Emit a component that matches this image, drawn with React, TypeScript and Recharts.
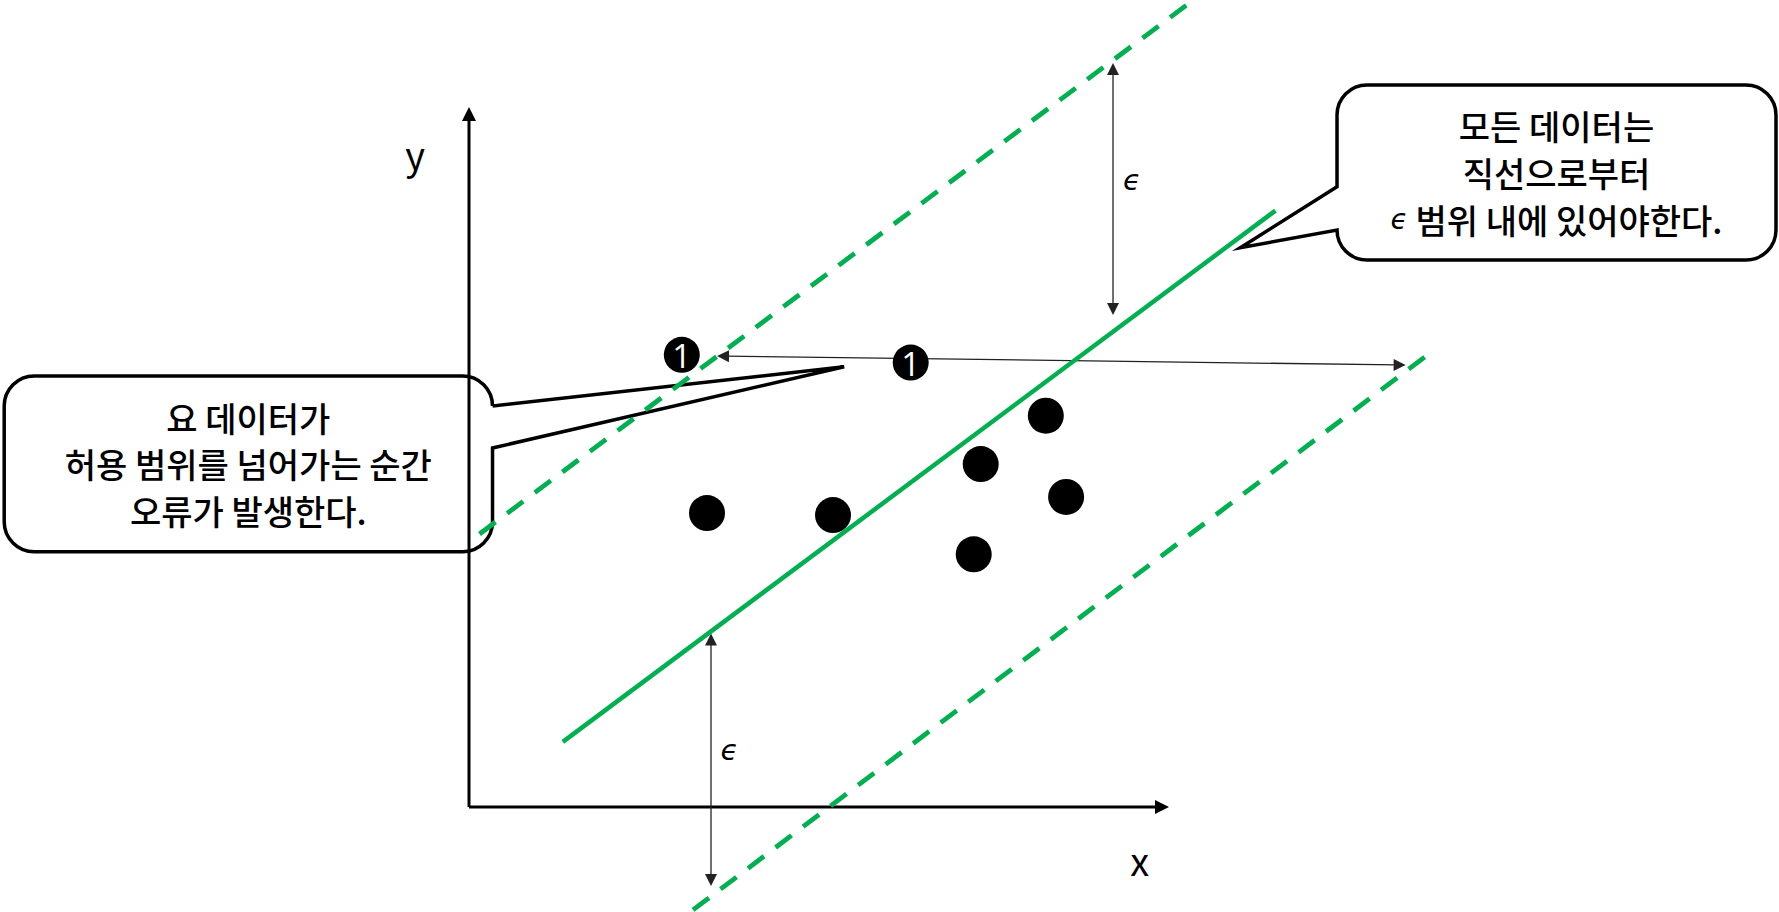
import React from 'react';
import {
  ComposedChart,
  XAxis,
  YAxis,
  Line,
  Scatter,
  ReferenceLine,
  ReferenceArea,
} from 'recharts';

// ---------- data (in chart units: the x / y axes run from 0 to 10) ----------
const fitLine = [
  { x: 1.34, y: 0.93 },
  { x: 11.52, y: 8.52 },
];
const upperBound = [
  { x: 0.15, y: 3.9 },
  { x: 10.35, y: 11.53 },
];
const lowerBound = [
  { x: 3.2, y: -1.47 },
  { x: 13.8, y: 6.54 },
];
const samples = [
  { x: 3.4, y: 4.2 },
  { x: 5.2, y: 4.17 },
  { x: 7.31, y: 4.9 },
  { x: 8.24, y: 5.59 },
  { x: 8.53, y: 4.43 },
  { x: 7.21, y: 3.61 },
];
const outliers = [
  { x: 3.04, y: 6.46, label: '1' },
  { x: 6.31, y: 6.35, label: '1' },
];
const axisX = [
  { x: 0, y: 0 },
  { x: 10, y: 0 },
];
const axisY = [
  { x: 0, y: 0 },
  { x: 0, y: 10 },
];
const epsTop = [
  { x: 9.2, y: 10.63 },
  { x: 9.2, y: 7.03 },
];
const epsBottom = [
  { x: 3.457, y: 2.48 },
  { x: 3.457, y: -1.13 },
];
const shiftArrow = [
  { x: 3.543, y: 6.443 },
  { x: 13.38, y: 6.314 },
];
const axisTitles = [
  { x: -0.77, y: 9.1, text: 'y' },
  { x: 9.58, y: -0.99, text: 'x' },
];
const epsLabels = [
  { x: 9.47, y: 8.81, text: 'ϵ' },
  { x: 3.72, y: 0.67, text: 'ϵ' },
];

const leftNote = ['요 데이터가', '허용 범위를 넘어가는 순간', '오류가 발생한다.'];
const rightNote = ['모든 데이터는', '직선으로부터', 'ϵ 범위 내에 있어야한다.'];

const leftBox = { x1: -6.64, x2: 0.336, y1: 3.647, y2: 6.157 };
const leftPointer = { tipX: 5.36, tipY: 6.29, baseTop: 5.729, baseBottom: 5.129 };
const rightBox = { x1: 12.4, x2: 18.671, y1: 7.814, y2: 10.314 };
const rightPointer = { tipX: 11.02, tipY: 7.99, baseTop: 8.861, baseBottom: 8.243 };

// ---------- layout / style ----------
const CHART_W = 1779;
const CHART_H = 912;
const X_DOMAIN: [number, number] = [-6.7, 18.714];
const Y_DOMAIN: [number, number] = [-1.5, 11.529];
const GREEN = '#00B050';
const KFONT = '"Noto Sans CJK KR", "Noto Sans", sans-serif';
const TEXT_SIZE = 34;

function makeArrow(width: number, color: string, headLen: number, headHalf: number, both: boolean) {
  return (p: any) => {
    const { x1, y1, x2, y2 } = p;
    const dx = x2 - x1;
    const dy = y2 - y1;
    const L = Math.hypot(dx, dy) || 1;
    const ux = dx / L;
    const uy = dy / L;
    const nx = -uy;
    const ny = ux;
    const head = (tx: number, ty: number, dirx: number, diry: number) =>
      `${tx},${ty} ${tx - dirx * headLen + nx * headHalf},${ty - diry * headLen + ny * headHalf} ${
        tx - dirx * headLen - nx * headHalf
      },${ty - diry * headLen - ny * headHalf}`;
    const sx = both ? x1 + ux * headLen * 0.7 : x1;
    const sy = both ? y1 + uy * headLen * 0.7 : y1;
    const ex = x2 - ux * headLen * 0.7;
    const ey = y2 - uy * headLen * 0.7;
    return (
      <g>
        <line x1={sx} y1={sy} x2={ex} y2={ey} stroke={color} strokeWidth={width} />
        <polygon points={head(x2, y2, ux, uy)} fill={color} />
        {both && <polygon points={head(x1, y1, -ux, -uy)} fill={color} />}
      </g>
    );
  };
}

function renderNoteLine(line: string) {
  if (line.startsWith('ϵ')) {
    return (
      <>
        <tspan fontFamily='"DejaVu Sans", sans-serif' fontStyle="italic" fontWeight={400} fontSize={28}>
          ϵ
        </tspan>
        <tspan>{line.slice(1)}</tspan>
      </>
    );
  }
  return line;
}

function calloutShape(
  box: { x1: number; x2: number; y1: number; y2: number },
  ptr: { tipX: number; tipY: number; baseTop: number; baseBottom: number },
  side: 'left' | 'right',
  lines: string[]
) {
  return (p: any) => {
    const x = p.x;
    const y = p.y;
    const w = p.width;
    const h = p.height;
    const kx = w / (box.x2 - box.x1);
    const ky = h / (box.y2 - box.y1);
    const tx = x + (ptr.tipX - box.x1) * kx;
    const ty = y + (box.y2 - ptr.tipY) * ky;
    const b1 = y + (box.y2 - ptr.baseTop) * ky;
    const b2 = y + (box.y2 - ptr.baseBottom) * ky;
    const r = 30;
    let d: string;
    if (side === 'right') {
      d = `M${x + r},${y} H${x + w - r} A${r},${r} 0 0 1 ${x + w},${y + r} V${b1} L${tx},${ty} L${x + w},${b2} V${
        y + h - r
      } A${r},${r} 0 0 1 ${x + w - r},${y + h} H${x + r} A${r},${r} 0 0 1 ${x},${y + h - r} V${y + r} A${r},${r} 0 0 1 ${
        x + r
      },${y} Z`;
    } else {
      d = `M${x + r},${y} H${x + w - r} A${r},${r} 0 0 1 ${x + w},${y + r} V${y + h - r} A${r},${r} 0 0 1 ${
        x + w - r
      },${y + h} H${x + r} A${r},${r} 0 0 1 ${x},${y + h - r} V${b2} L${tx},${ty} L${x},${b1} V${y + r} A${r},${r} 0 0 1 ${
        x + r
      },${y} Z`;
    }
    const cx = x + w / 2;
    const cy = y + h / 2;
    const gap = 46.7;
    return (
      <g>
        <path d={d} fill="none" stroke="#000" strokeWidth={3.5} strokeLinejoin="miter" strokeMiterlimit={6} />
        {lines.map((ln, i) => (
          <text
            key={i}
            x={cx}
            y={cy + (i - 1) * gap}
            textAnchor="middle"
            dominantBaseline="central"
            fontSize={TEXT_SIZE}
            fontWeight={500}
            fontFamily={KFONT}
            fill="#000"
          >
            {renderNoteLine(ln)}
          </text>
        ))}
      </g>
    );
  };
}

const dotShape = (p: any) => <circle cx={p.cx} cy={p.cy} r={18} fill="#000" />;

const outlierShape = (p: any) => (
  <g>
    <circle cx={p.cx} cy={p.cy} r={18} fill="#000" />
    <text
      x={p.cx}
      y={p.cy + 1}
      textAnchor="middle"
      dominantBaseline="central"
      fill="#fff"
      fontSize={33}
      fontFamily='"Open Sans", "Liberation Sans", sans-serif'
    >
      {p.payload.label}
    </text>
  </g>
);

const textShape = (family: string, size: number, italic: boolean) => (p: any) => (
  <text
    x={p.cx}
    y={p.cy}
    textAnchor="middle"
    fontSize={size}
    fontFamily={family}
    fontStyle={italic ? 'italic' : 'normal'}
    fill="#000"
  >
    {p.payload.text}
  </text>
);

export default function App() {
  return (
    <div style={{ position: 'absolute', left: 0, top: 0, width: CHART_W, height: CHART_H, background: '#fff' }}>
      <ComposedChart width={CHART_W} height={CHART_H} margin={{ top: 0, right: 0, bottom: 0, left: 0 }}>
        <XAxis type="number" dataKey="x" domain={X_DOMAIN} allowDataOverflow hide />
        <YAxis type="number" dataKey="y" domain={Y_DOMAIN} allowDataOverflow hide />

        <ReferenceArea
          x1={leftBox.x1}
          x2={leftBox.x2}
          y1={leftBox.y1}
          y2={leftBox.y2}
          ifOverflow="visible"
          shape={calloutShape(leftBox, leftPointer, 'right', leftNote)}
        />
        <ReferenceArea
          x1={rightBox.x1}
          x2={rightBox.x2}
          y1={rightBox.y1}
          y2={rightBox.y2}
          ifOverflow="visible"
          shape={calloutShape(rightBox, rightPointer, 'left', rightNote)}
        />

        <ReferenceLine segment={axisX} ifOverflow="visible" shape={makeArrow(3, '#000', 14, 7, false)} />
        <ReferenceLine segment={axisY} ifOverflow="visible" shape={makeArrow(3, '#000', 14, 7, false)} />
        <ReferenceLine segment={epsTop} ifOverflow="visible" shape={makeArrow(1.3, '#222', 12, 6, true)} />
        <ReferenceLine segment={epsBottom} ifOverflow="visible" shape={makeArrow(1.3, '#222', 12, 6, true)} />
        <ReferenceLine segment={shiftArrow} ifOverflow="visible" shape={makeArrow(1.3, '#222', 12, 6, true)} />

        <Line
          data={upperBound}
          dataKey="y"
          type="linear"
          stroke={GREEN}
          strokeWidth={4.8}
          strokeDasharray="20 14.5"
          dot={false}
          activeDot={false}
          isAnimationActive={false}
        />
        <Line
          data={lowerBound}
          dataKey="y"
          type="linear"
          stroke={GREEN}
          strokeWidth={4.8}
          strokeDasharray="20 14.5"
          dot={false}
          activeDot={false}
          isAnimationActive={false}
        />
        <Line
          data={fitLine}
          dataKey="y"
          type="linear"
          stroke={GREEN}
          strokeWidth={4.5}
          dot={false}
          activeDot={false}
          isAnimationActive={false}
        />

        <Scatter data={samples} shape={dotShape} isAnimationActive={false} />
        <Scatter data={outliers} shape={outlierShape} isAnimationActive={false} />
        <Scatter data={axisTitles} shape={textShape(KFONT, 38, false)} isAnimationActive={false} />
        <Scatter data={epsLabels} shape={textShape('"DejaVu Sans", sans-serif', 29, true)} isAnimationActive={false} />
      </ComposedChart>
    </div>
  );
}
